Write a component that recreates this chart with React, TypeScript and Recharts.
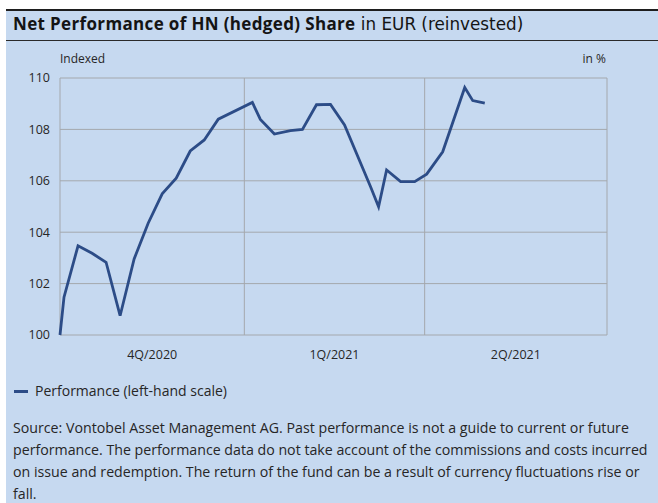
import React from 'react';
import { LineChart, Line, XAxis, YAxis, CartesianGrid, ReferenceLine } from 'recharts';

// days since start of 4Q/2020 (1 Oct 2020)
const days = [0, 2, 9, 16, 23, 30, 37, 44, 51, 58, 65, 72, 79, 96, 100, 107, 115, 121, 128, 135, 142, 155, 159, 163, 170, 177, 183, 191, 202, 206, 212];
const performance = [
  100.0, 101.47, 103.47, 103.18, 102.83, 100.75, 102.96, 104.35, 105.49, 106.1, 107.16, 107.59, 108.4,
  109.05, 108.39, 107.82, 107.95, 108.0, 108.96, 108.97, 108.17, 105.77, 104.99, 106.42, 105.97, 105.97,
  106.26, 107.13, 109.63, 109.12, 109.02,
];
const quarterLabels = ['4Q/2020', '1Q/2021', '2Q/2021'];
const quarterBounds = [0, 92, 182, 273];
const yTicks = [100, 102, 104, 106, 108, 110];

const sourceLines = [
  'Source: Vontobel Asset Management AG. Past performance is not a guide to current or future',
  'performance. The performance data do not take account of the commissions and costs incurred',
  'on issue and redemption. The return of the fund can be a result of currency fluctuations rise or',
  'fall.',
];

const data = days.map((d, i) => ({ day: d, value: performance[i] }));
const labelTicks = quarterLabels.map((_, i) => (quarterBounds[i] + quarterBounds[i + 1]) / 2);

const FONT = '"Open Sans", "Noto Sans", sans-serif';
const WIDE = '"DejaVu Sans", sans-serif';
const BLUE_BG = '#c6d9f0';
const LINE = '#2c4c87';
const GRID = '#a4a8ad';
const TEXT = '#262626';

export default function App() {
  return (
    <div
      style={{
        position: 'absolute',
        left: 0,
        top: 0,
        width: 658,
        height: 503,
        overflow: 'hidden',
        background: '#fff',
        fontFamily: FONT,
      }}
    >
      <div
        style={{
          position: 'absolute',
          left: 6,
          top: 9,
          width: 700,
          height: 520,
          background: BLUE_BG,
          borderTop: '2px solid #1e1e1e',
        }}
      />
      <div
        style={{
          position: 'absolute',
          left: 6,
          top: 40,
          width: 700,
          height: 0,
          borderTop: '1.5px solid #2a2a2a',
        }}
      />
      <div
        style={{
          position: 'absolute',
          left: 13,
          top: 12,
          fontSize: 16.5,
          color: '#141414',
          whiteSpace: 'nowrap',
        }}
      >
        <span style={{ fontWeight: 700, fontSize: 17, letterSpacing: 0.35 }}>Net Performance of HN (hedged) Share</span>
        <span style={{ fontFamily: WIDE, fontSize: 16.8 }}>{' '}in EUR (reinvested)</span>
      </div>
      <div style={{ position: 'absolute', left: 60, top: 50, fontSize: 12, color: TEXT }}>Indexed</div>
      <div style={{ position: 'absolute', right: 658 - 606, top: 50, fontSize: 12, color: TEXT }}>in %</div>

      <div style={{ position: 'absolute', left: 0, top: 0 }}>
        <LineChart width={658} height={370} data={data} margin={{ top: 78, right: 51, left: 0, bottom: 0 }}>
          <CartesianGrid vertical={false} stroke={GRID} strokeWidth={1} />
          {quarterBounds.map((b) => (
            <ReferenceLine key={b} x={b} stroke={GRID} strokeWidth={1} />
          ))}
          <XAxis
            dataKey="day"
            type="number"
            domain={[quarterBounds[0], quarterBounds[quarterBounds.length - 1]]}
            ticks={labelTicks}
            tickFormatter={(v: number) => quarterLabels[labelTicks.indexOf(v)] ?? ''}
            tick={{ fontSize: 12.5, fill: TEXT, fontFamily: FONT }}
            tickLine={false}
            axisLine={false}
            tickMargin={9}
            height={35}
            interval={0}
          />
          <YAxis
            domain={[100, 110]}
            ticks={yTicks}
            tick={{ fontSize: 12.5, fill: TEXT, fontFamily: FONT }}
            tickLine={false}
            axisLine={false}
            tickMargin={4}
            width={60}
            interval={0}
          />
          <Line
            type="linear"
            dataKey="value"
            stroke={LINE}
            strokeWidth={2.8}
            dot={false}
            isAnimationActive={false}
          />
        </LineChart>
      </div>

      <div
        style={{
          position: 'absolute',
          left: 14,
          top: 380,
          lineHeight: '22px',
          fontSize: 14,
          color: TEXT,
          whiteSpace: 'nowrap',
          display: 'flex',
          alignItems: 'center',
        }}
      >
        <span style={{ display: 'inline-block', width: 14, height: 3, background: LINE, marginRight: 7 }} />
        <span>Performance (left-hand scale)</span>
      </div>

      <div
        style={{
          position: 'absolute',
          left: 13,
          top: 417,
          fontSize: 14.2,
          lineHeight: '22px',
          color: TEXT,
          whiteSpace: 'nowrap',
        }}
      >
        {sourceLines.map((l) => (
          <div key={l}>{l}</div>
        ))}
      </div>
    </div>
  );
}
